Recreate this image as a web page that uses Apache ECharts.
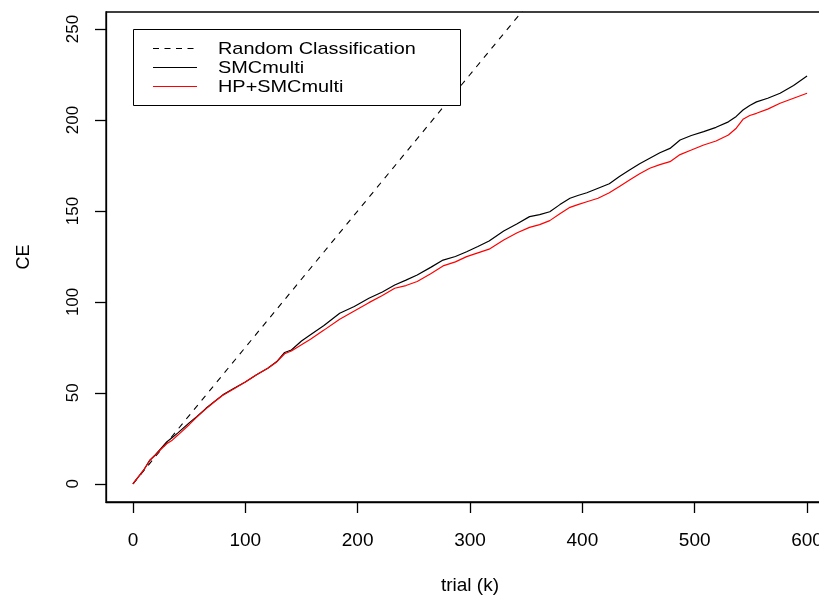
<!DOCTYPE html>
<html>
<head>
<meta charset="utf-8">
<script src="https://cdn.jsdelivr.net/npm/echarts@6/dist/echarts.min.js"></script>
<style>
html,body{margin:0;padding:0;background:#fff;}
#chart{width:819px;height:598px;}
</style>
</head>
<body>
<div id="chart"></div>
<script>
// trial (k) sample points
var trials = [0, 5, 10, 15, 20, 25, 30, 35, 40, 50, 57, 65, 72, 80, 90, 100, 110, 120, 128, 135, 141, 150, 158, 170, 184, 197, 210, 222, 233, 243, 253, 265, 276, 287, 297, 307, 317, 330, 342, 353, 362, 371, 380, 389, 396, 404, 414, 424, 433, 442, 451, 460, 469, 478, 487, 497, 508, 519, 530, 537, 543, 549, 555, 565, 576, 588, 600];
var smcMulti = [0, 4, 8, 13, 16, 19.5, 23, 25.5, 28, 33.5, 37, 41.5, 45, 48.9, 52.5, 56, 60, 63.5, 67.2, 72.2, 73.6, 78.5, 82, 87, 93.8, 97.5, 102, 105.5, 109.3, 112, 114.8, 119, 123, 125, 127.6, 130.5, 133.5, 139, 143, 146.9, 148, 149.6, 153.5, 157, 158.5, 160, 162.5, 165, 169, 172.5, 176, 179, 182, 184.4, 189, 191.5, 193.6, 196, 199, 202, 205.5, 208, 210, 212, 214.7, 219, 224.2];
var hpSmcMulti = [0, 4, 8, 12.8, 15.8, 19, 22, 24, 26.8, 32.5, 36.8, 41.2, 44.8, 48.7, 52.3, 56, 60, 63.5, 67, 71.5, 73, 76.5, 79.5, 84.5, 90.5, 95, 99.6, 103.5, 107.5, 109, 111.2, 115.5, 119.8, 122, 124.9, 127, 129, 134, 138, 141, 142.5, 144.7, 148.5, 152, 153.5, 155.1, 157, 160, 163.5, 167, 170.5, 173.5, 175.5, 177.1, 181, 183.5, 186.3, 188.5, 191.8, 195.5, 200.4, 202.5, 203.7, 206, 209.2, 212, 214.7];
// random classification reference line endpoints
var randomTrials = [0, 600];
var randomCE = [0, 450];
// tick labels
var xTicks = [0, 100, 200, 300, 400, 500, 600];
var yTicks = [0, 50, 100, 150, 200, 250];
var legendNames = ['Random Classification', 'SMCmulti', 'HP+SMCmulti'];

function pairs(xs, ys) { return xs.map(function (x, i) { return [x, ys[i]]; }); }

var FONT = 'Liberation Sans, Arial, Helvetica, sans-serif';
var chart = echarts.init(document.getElementById('chart'), null, {renderer: 'canvas'});

var legendTop = 29, legendLeft = 133, rowH = 19;
var graphics = [
  {type: 'rect', shape: {x: legendLeft + 0.5, y: legendTop + 0.5, width: 327, height: 76},
   style: {fill: '#fff', stroke: '#000', lineWidth: 1}, z: 100}
];
var legendStyles = [
  {stroke: '#000', lineDash: [6, 5.5]},
  {stroke: '#000'},
  {stroke: '#ff0000'}
];
legendNames.forEach(function (name, i) {
  var y = legendTop + 19.5 + i * rowH;
  graphics.push({type: 'line', shape: {x1: 153, y1: y, x2: 197, y2: y},
    style: Object.assign({lineWidth: 1.2}, legendStyles[i]), z: 101});
  graphics.push({type: 'text', x: 218, y: y + 0.5, scaleX: 1.17, z: 101,
    style: {text: name, font: '17px ' + FONT, fill: '#000', verticalAlign: 'middle', align: 'left'}});
});

var option = {
  animation: false,
  backgroundColor: '#fff',
  grid: {left: 106, top: 12, width: 728, height: 490, outerBoundsMode: 'none', containLabel: false,
         show: true, borderColor: '#000', borderWidth: 1.3, backgroundColor: 'transparent'},
  xAxis: {
    type: 'value', min: -24, max: 624,
    axisLine: {show: true, onZero: false, lineStyle: {color: '#000', width: 1.3}},
    axisTick: {show: true, length: 11, customValues: xTicks, lineStyle: {color: '#000', width: 1.3}},
    axisLabel: {customValues: xTicks, margin: 29, fontSize: 19, color: '#000', fontFamily: FONT},
    splitLine: {show: false},
    name: 'trial (k)', nameLocation: 'middle', nameGap: 74,
    nameTextStyle: {fontSize: 19, color: '#000', fontFamily: FONT}
  },
  yAxis: {
    type: 'value', min: -10, max: 259.4,
    axisLine: {show: true, onZero: false, lineStyle: {color: '#000', width: 1.3}},
    axisTick: {show: true, length: 11, customValues: yTicks, lineStyle: {color: '#000', width: 1.3}},
    axisLabel: {customValues: yTicks, margin: 24, rotate: 90, fontSize: 17, color: '#000', fontFamily: FONT},
    splitLine: {show: false},
    name: 'CE', nameLocation: 'middle', nameGap: 73, nameRotate: 90,
    nameTextStyle: {fontSize: 18, color: '#000', fontFamily: FONT}
  },
  series: [
    {name: legendNames[0], type: 'line', data: pairs(randomTrials, randomCE), showSymbol: false, clip: true,
     lineStyle: {color: '#000', width: 1.1, type: [6, 6]}},
    {name: legendNames[1], type: 'line', data: pairs(trials, smcMulti), showSymbol: false, clip: true,
     lineStyle: {color: '#000', width: 1.2}},
    {name: legendNames[2], type: 'line', data: pairs(trials, hpSmcMulti), showSymbol: false, clip: true,
     lineStyle: {color: '#ff0000', width: 1.2}}
  ],
  graphic: graphics
};
chart.setOption(option);
</script>
</body>
</html>
